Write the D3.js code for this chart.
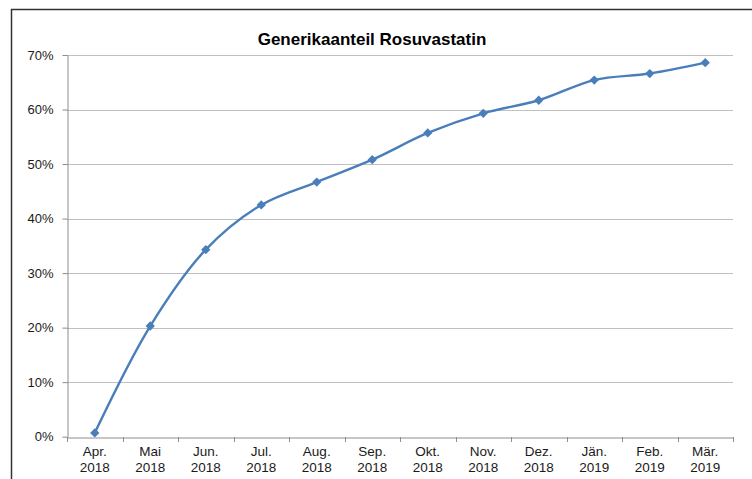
<!DOCTYPE html>
<html><head><meta charset="utf-8">
<script src="https://cdn.jsdelivr.net/npm/d3@7"></script>
<style>
html,body{margin:0;padding:0;background:#fff;}
svg{display:block;font-family:"Liberation Sans",Arial,sans-serif;}
</style></head>
<body>
<svg id="chart" width="752" height="479"></svg>
<script>
const title = "Generikaanteil Rosuvastatin";
const months = ["Apr.","Mai","Jun.","Jul.","Aug.","Sep.","Okt.","Nov.","Dez.","Jän.","Feb.","Mär."];
const years = ["2018","2018","2018","2018","2018","2018","2018","2018","2018","2019","2019","2019"];
const values = [0.007,0.203,0.343,0.425,0.467,0.508,0.557,0.593,0.617,0.654,0.666,0.686];
const yTicks = [0,0.1,0.2,0.3,0.4,0.5,0.6,0.7];

(function(){
const svg = d3.select("#chart");
const pLeft = 67, pRight = 733, pTop = 55, pBottom = 436.7;

// frame
svg.append("path").attr("d","M11.5,479 V9.5 H752").attr("fill","none").attr("stroke","#333").attr("stroke-width",1.5);

const cats = months.map((m,i)=>i);
const x = d3.scaleBand().domain(cats).range([pLeft,pRight]).padding(0);
const y = d3.scaleLinear().domain([0,0.7]).range([pBottom,pTop]);

// gridlines
svg.append("g").selectAll("line").data(yTicks.slice(1)).join("line")
  .attr("x1",pLeft).attr("x2",pRight)
  .attr("y1",d=>Math.round(y(d))+0.5).attr("y2",d=>Math.round(y(d))+0.5)
  .attr("stroke","#c0c0c0").attr("stroke-width",1);

// y axis
const ya = svg.append("g").attr("transform",`translate(${pLeft+0.5},0)`)
  .call(d3.axisLeft(y).tickValues(yTicks).tickFormat(d=>Math.round(d*100)+"%").tickSize(5).tickSizeOuter(0));
ya.select(".domain").attr("stroke","#8c8c8c");
ya.selectAll(".tick line").attr("stroke","#8c8c8c");
ya.selectAll(".tick text").attr("font-size",13).attr("fill","#1a1a1a").attr("x",-14)
  .attr("font-family","Liberation Sans, Arial, sans-serif");

// x axis
const xa = svg.append("g").attr("transform",`translate(0,${Math.round(pBottom)+0.5})`)
  .call(d3.axisBottom(x).tickValues([]).tickSizeOuter(0));
xa.select(".domain").attr("stroke","#8c8c8c");
const bounds = cats.map(i=>x(i)).concat([pRight]);
svg.append("g").selectAll("line").data(bounds).join("line")
  .attr("x1",d=>Math.round(d)+0.5).attr("x2",d=>Math.round(d)+0.5)
  .attr("y1",Math.round(pBottom)).attr("y2",Math.round(pBottom)+5)
  .attr("stroke","#8c8c8c");
const lbl = svg.append("g").selectAll("text").data(cats).join("text")
  .attr("x",d=>x(d)+x.bandwidth()/2).attr("text-anchor","middle")
  .attr("font-size",13.5).attr("fill","#1a1a1a");
lbl.append("tspan").attr("x",d=>x(d)+x.bandwidth()/2).attr("y",456).text(d=>months[d]);
lbl.append("tspan").attr("x",d=>x(d)+x.bandwidth()/2).attr("y",472).text(d=>years[d]);

// line
const line = d3.line().x((d,i)=>x(i)+x.bandwidth()/2).y(d=>y(d)).curve(d3.curveCatmullRom.alpha(0.5));
svg.append("path").datum(values).attr("d",line).attr("fill","none")
  .attr("stroke","#4a7ebb").attr("stroke-width",2.4);

// markers
svg.append("g").selectAll("path").data(values).join("path")
  .attr("transform",(d,i)=>`translate(${x(i)+x.bandwidth()/2},${y(d)})`)
  .attr("d",d3.symbol().type(d3.symbolDiamond2).size(55))
  .attr("fill","#4a7ebb");

// title
svg.append("text").attr("x",372).attr("y",45).attr("text-anchor","middle")
  .attr("font-size",17).attr("font-weight","bold").attr("fill","#000").text(title);
})();
</script>
</body></html>
